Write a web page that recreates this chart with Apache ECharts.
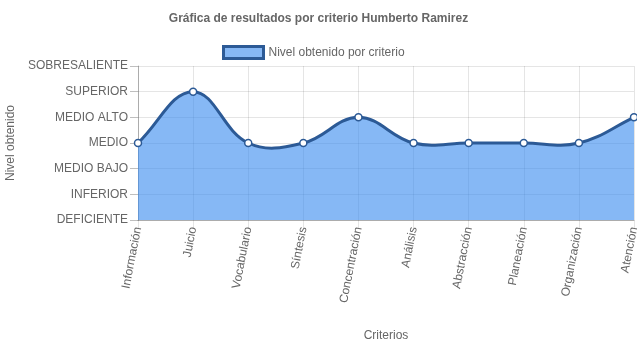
<!DOCTYPE html>
<html><head><meta charset="utf-8">
<script src="https://cdn.jsdelivr.net/npm/echarts@6/dist/echarts.min.js"></script>
<style>html,body{margin:0;padding:0;background:#fff}#c{width:637px;height:348px}</style>
</head><body><div id="c"></div>
<script>
const categories = ['Información','Juicio','Vocabulario','Síntesis','Concentración','Análisis','Abstracción','Planeación','Organización','Atención'];
const levels = ['DEFICIENTE','INFERIOR','MEDIO BAJO','MEDIO','MEDIO ALTO','SUPERIOR','SOBRESALIENTE'];
const values = [3,5,3,3,4,3,3,3,3,4];
const seriesName = 'Nivel obtenido por criterio';

const font = '"Liberation Sans", Arial, Helvetica, sans-serif';
const lineColor = '#2c5a96';
const fillColor = 'rgba(53,137,238,0.6)';
const tension = 0.4;

function renderCurve(params, api) {
  const pts = values.map((v, i) => api.coord([i, v]));
  const base = api.coord([0, 0])[1];
  const cs = params.coordSys;
  const n = pts.length;
  const cps = pts.map((p, i) => {
    const prev = i > 0 ? pts[i-1] : p;
    const next = i < n-1 ? pts[i+1] : p;
    const d01 = Math.hypot(p[0]-prev[0], p[1]-prev[1]);
    const d12 = Math.hypot(next[0]-p[0], next[1]-p[1]);
    let s01 = d01/(d01+d12), s12 = d12/(d01+d12);
    if (isNaN(s01)) s01 = 0; if (isNaN(s12)) s12 = 0;
    const fa = tension*s01, fb = tension*s12;
    const clampY = y => Math.max(cs.y, Math.min(cs.y+cs.height, y));
    const clampX = x => Math.max(cs.x, Math.min(cs.x+cs.width, x));
    return {
      prev:[clampX(p[0]-fa*(next[0]-prev[0])), clampY(p[1]-fa*(next[1]-prev[1]))],
      next:[clampX(p[0]+fb*(next[0]-prev[0])), clampY(p[1]+fb*(next[1]-prev[1]))]
    };
  });
  let d = 'M' + pts[0][0] + ' ' + pts[0][1];
  for (let i = 1; i < n; i++) {
    d += ' C' + cps[i-1].next[0] + ' ' + cps[i-1].next[1] + ' ' + cps[i].prev[0] + ' ' + cps[i].prev[1] + ' ' + pts[i][0] + ' ' + pts[i][1];
  }
  const area = d + ' L' + pts[n-1][0] + ' ' + base + ' L' + pts[0][0] + ' ' + base + ' Z';
  return {type:'group', children:[
    {type:'path', shape:{pathData:area}, style:{fill:fillColor, stroke:null}},
    {type:'path', shape:{pathData:d}, style:{fill:null, stroke:lineColor, lineWidth:3}}
  ]};
}

const chart = echarts.init(document.getElementById('c'), null, {renderer:'canvas'});
chart.setOption({
  animation:false,
  textStyle:{fontFamily:font},
  title:{text:'Gráfica de resultados por criterio Humberto Ramirez', left:'center', top:8,
    textStyle:{fontFamily:font, fontSize:12, fontWeight:'bold', color:'#666'}},
  legend:{top:40, left:217, itemWidth:40, itemHeight:12, itemGap:10,
    data:[{name:seriesName, icon:'rect'}],
    textStyle:{fontFamily:font, fontSize:12, color:'#666'},
    itemStyle:{color:'#86b8f5', borderColor:lineColor, borderWidth:3}},
  grid:{left:138, right:3, top:66, bottom:128, containLabel:false, outerBoundsMode:'none'},
  xAxis:{type:'category', data:categories, boundaryGap:false,
    name:'Criterios', nameLocation:'middle', nameGap:110,
    nameTextStyle:{fontFamily:font, fontSize:12, color:'#666'},
    axisLine:{show:true, lineStyle:{color:'rgba(0,0,0,0.25)'}},
    axisTick:{show:true, length:8, alignWithLabel:true, lineStyle:{color:'rgba(0,0,0,0.1)'}},
    splitLine:{show:true, lineStyle:{color:'rgba(0,0,0,0.1)'}},
    axisLabel:{rotate:79, interval:0, margin:7, fontFamily:font, fontSize:12, color:'#666'}},
  yAxis:{type:'value', min:0, max:6, interval:1,
    name:'Nivel obtenido', nameLocation:'middle', nameGap:121, nameRotate:90,
    nameTextStyle:{fontFamily:font, fontSize:12, color:'#666'},
    axisLine:{show:true, lineStyle:{color:'rgba(0,0,0,0.25)'}},
    axisTick:{show:true, length:8, lineStyle:{color:'rgba(0,0,0,0.25)'}},
    splitLine:{show:true, lineStyle:{color:'rgba(0,0,0,0.1)'}},
    axisLabel:{margin:10, fontFamily:font, fontSize:12, color:'#666',
      formatter:function(v){return levels[v] || '';}}},
  series:[
    {name:'curve', type:'custom', data:[0], renderItem:renderCurve, silent:true, z:1, clip:false},
    {name:seriesName, type:'line', data:values, z:3,
      symbol:'circle', symbolSize:7, showAllSymbol:true,
      lineStyle:{width:0, opacity:0},
      itemStyle:{color:'#fff', borderColor:lineColor, borderWidth:1.5}}
  ]
});
</script></body></html>
